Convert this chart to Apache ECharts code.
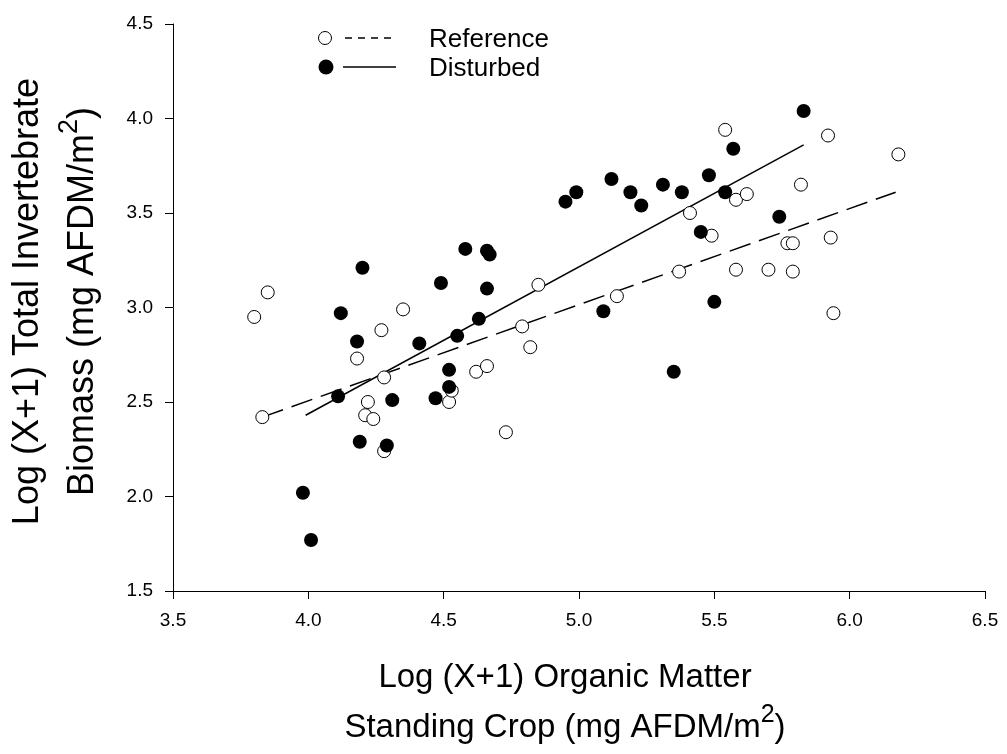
<!DOCTYPE html>
<html>
<head>
<meta charset="utf-8">
<title>Invertebrate biomass vs organic matter</title>
<script src="https://cdn.jsdelivr.net/npm/echarts@6.0.0/dist/echarts.min.js"></script>
<style>
  html, body { margin: 0; padding: 0; background: #fff; }
  #chart { width: 1007px; height: 754px; }
</style>
</head>
<body>
<div id="chart"></div>
<script>
// Reference sites (open circles)
const refX = [3.80, 3.85, 3.83, 4.35, 4.27, 4.18, 4.28, 4.22, 4.21, 4.24, 4.28, 4.52,
              4.53, 4.62, 4.66, 4.73, 4.79, 4.82, 4.85, 5.14, 5.37, 5.41, 5.49, 5.54,
              5.58, 5.62, 5.82, 5.92, 6.18, 5.58, 5.70, 5.77, 5.79, 5.79, 5.93, 5.94];
const refY = [2.95, 3.08, 2.42, 2.99, 2.88, 2.73, 2.63, 2.50, 2.43, 2.41, 2.24, 2.50,
              2.56, 2.66, 2.69, 2.34, 2.90, 2.79, 3.12, 3.06, 3.19, 3.50, 3.38, 3.94,
              3.57, 3.60, 3.65, 3.91, 3.81, 3.20, 3.20, 3.34, 3.34, 3.19, 3.37, 2.97];

// Disturbed sites (filled circles)
const distX = [3.98, 4.01, 4.11, 4.12, 4.18, 4.19, 4.20, 4.29, 4.31, 4.41, 4.47, 4.49,
               4.52, 4.52, 4.55, 4.58, 4.66, 4.67, 4.66, 4.63, 4.95, 4.99, 5.09, 5.12,
               5.19, 5.23, 5.31, 5.38, 5.35, 5.48, 5.45, 5.50, 5.54, 5.57, 5.74, 5.83];
const distY = [2.02, 1.77, 2.53, 2.97, 2.82, 2.29, 3.21, 2.27, 2.51, 2.81, 2.52, 3.13,
               2.67, 2.58, 2.85, 3.31, 3.30, 3.28, 3.10, 2.94, 3.56, 3.61, 2.98, 3.68,
               3.61, 3.54, 3.65, 3.61, 2.66, 3.70, 3.40, 3.03, 3.61, 3.84, 3.48, 4.04];

// Fitted regression lines (end points)
const refFitX = [3.83, 6.17];
const refFitY = [2.42, 3.61];
const distFitX = [3.99, 5.83];
const distFitY = [2.43, 3.86];

const FONT = 'Liberation Sans, Arial, Helvetica, sans-serif';

function pairs(xs, ys) {
  return xs.map((x, i) => [x, ys[i]]);
}

// rich styles for axis titles with a raised "2"
function titleRich(size, lh, supSize) {
  return {
    t: { fontFamily: FONT, fontSize: size, color: '#000', lineHeight: lh },
    s: { fontFamily: FONT, fontSize: supSize, color: '#000', lineHeight: lh, verticalAlign: 'top', padding: [0, 0, 14, 0] }
  };
}

const chart = echarts.init(document.getElementById('chart'));

const axisCommon = {
  axisLine: { show: true, lineStyle: { color: '#000', width: 1 } },
  axisTick: { show: true, inside: false, length: 8, lineStyle: { color: '#000' } },
  splitLine: { show: false },
  axisLabel: {
    color: '#000', fontFamily: FONT, fontSize: 19, margin: 20,
    formatter: v => v.toFixed(1)
  }
};

const option = {
  animation: false,
  backgroundColor: '#fff',
  grid: { left: 173, right: 22, top: 24, bottom: 163 },
  xAxis: Object.assign({}, axisCommon, {
    type: 'value',
    min: 3.5, max: 6.5, interval: 0.5,
    name: '{t|Log (X+1) Organic Matter}\n{t|Standing Crop (mg AFDM/m}{s|2}{t|)}',
    nameLocation: 'middle',
    nameGap: 62,
    nameTextStyle: { rich: titleRich(33, 50, 25), padding: [0, 28, 0, 0] }
  }),
  yAxis: Object.assign({}, axisCommon, {
    type: 'value',
    min: 1.5, max: 4.5, interval: 0.5,
    name: '{t|Log (X+1) Total Invertebrate}\n{t|Biomass (mg AFDM/m}{s|2}{t|)}',
    nameLocation: 'middle',
    nameGap: 62,
    nameRotate: 90,
    nameTextStyle: { rich: titleRich(36, 55, 27), padding: [0, 0, 0, 12] }
  }),
  graphic: [
    { type: 'circle', shape: { cx: 325, cy: 38, r: 6.5 }, style: { fill: '#fff', stroke: '#000', lineWidth: 1 } },
    { type: 'line', shape: { x1: 345, y1: 38, x2: 396, y2: 38 }, style: { stroke: '#000', lineWidth: 1.3, lineDash: [7, 6] } },
    { type: 'text', left: 429, top: 27, style: { text: 'Reference', fill: '#000', font: '26px ' + FONT } },
    { type: 'circle', shape: { cx: 326, cy: 67, r: 7.5 }, style: { fill: '#000' } },
    { type: 'line', shape: { x1: 343, y1: 67, x2: 396, y2: 67 }, style: { stroke: '#000', lineWidth: 1.3 } },
    { type: 'text', left: 429, top: 56, style: { text: 'Disturbed', fill: '#000', font: '26px ' + FONT } }
  ],
  series: [
    {
      name: 'Reference fit',
      type: 'line',
      data: pairs(refFitX, refFitY),
      symbol: 'none',
      z: 1,
      lineStyle: { color: '#000', width: 1.5, type: [22, 9] }
    },
    {
      name: 'Disturbed fit',
      type: 'line',
      data: pairs(distFitX, distFitY),
      symbol: 'none',
      z: 1,
      lineStyle: { color: '#000', width: 1.5, type: 'solid' }
    },
    {
      name: 'Reference',
      type: 'scatter',
      data: pairs(refX, refY),
      symbol: 'circle',
      symbolSize: 13,
      z: 3,
      itemStyle: { color: '#fff', borderColor: '#000', borderWidth: 1, opacity: 1 }
    },
    {
      name: 'Disturbed',
      type: 'scatter',
      data: pairs(distX, distY),
      symbol: 'circle',
      symbolSize: 14,
      z: 4,
      itemStyle: { color: '#000', opacity: 1 }
    }
  ]
};

chart.setOption(option);

window.addEventListener('resize', () => chart.resize());
</script>
</body>
</html>
